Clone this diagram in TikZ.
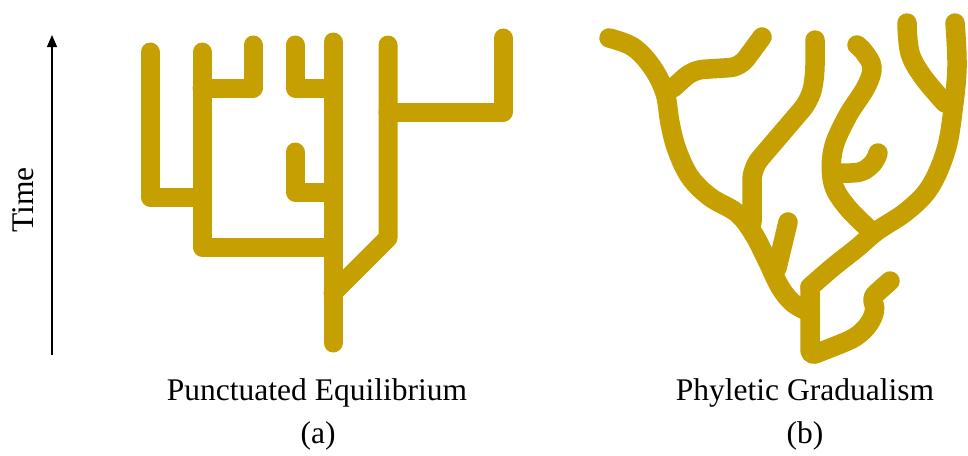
\documentclass[tikz,border=0pt]{standalone}
\usepackage{fontspec}
\setmainfont{Liberation Serif}
\usetikzlibrary{arrows.meta}
\definecolor{treegold}{RGB}{197,160,0}
\tikzset{
  branchL/.style={draw=treegold, line width=19pt, line cap=round, line join=round},
  branchR/.style={draw=treegold, line width=19.5pt, line cap=round, line join=round},
  lbl/.style={font=\fontsize{31.5}{38}\selectfont, anchor=base, inner sep=0pt}
}
\begin{document}
\begin{tikzpicture}[x=1pt,y=-1pt]
\useasboundingbox (0,0) rectangle (968,455);
% time axis
\coordinate (tb) at (52,355);
\coordinate (tt) at (52,35);
\draw[line width=1.4pt, -{Triangle[length=12pt,width=10pt]}] (tb) -- (tt);
\node[lbl, rotate=90] (time) at (33,200) {Time};
% left tree: punctuated equilibrium
\draw[branchL] (150,52) -- (150,197) -- (202,197);
\draw[branchL] (202,52) -- (202,247) -- (333,247);
\draw[branchL] (202,88) -- (253,88) -- (253,45);
\draw[branchL] (333,42) -- (333,343);
\draw[branchL] (295,45) -- (295,88) -- (333,88);
\draw[branchL] (295,152) -- (295,192) -- (333,192);
\draw[branchL] (388,45) -- (388,238) -- (333,293);
\draw[branchL] (388,112) -- (503,112) -- (503,38);
% right tree: phyletic gradualism
\draw[branchR] plot[smooth, tension=0.6] coordinates {(609,38) (633,47) (652,67) (665,93) (670,123) (677,150) (690,177) (710,197) (737,213) (753,233) (767,260) (780,287) (793,303) (809,312)};
\draw[branchR, rounded corners=10pt] (673,88) -- (693,70) -- (740,67) -- (762,37);
\draw[branchR, rounded corners=12pt] (815,40) -- (815,77) -- (810,100) -- (752,168) -- (752,222);
\draw[branchR] plot[smooth, tension=0.6] coordinates {(788,222) (783,243) (777,268)};
\draw[branchR, rounded corners=6pt] (810,287) -- (810,356) -- (843,343) .. controls (868,332) and (878,312) .. (871,298) -- (890,281);
\draw[branchR] plot[smooth, tension=0.6] coordinates {(810,287) (833,267) (857,248) (877,231) (907,211) (930,187) (946,150) (953,110) (957,67) (955,23)};
\draw[branchR] plot[smooth, tension=0.6] coordinates {(945,103) (923,77) (910,53) (907,23)};
\draw[branchR] plot[smooth, tension=0.6] coordinates {(870,230) (847,207) (833,183) (833,150) (847,117) (866,87) (872,67) (864,52) (857,45)};
\draw[branchR] plot[smooth, tension=0.6] coordinates {(836,173) (860,172) (873,163) (878,153)};
% captions
\node[lbl] (capa) at (317,400) {Punctuated Equilibrium};
\node[lbl] (taga) at (318,443) {(a)};
\node[lbl] (capb) at (805,400) {Phyletic Gradualism};
\node[lbl] (tagb) at (805,443) {(b)};
\end{tikzpicture}
\end{document}
